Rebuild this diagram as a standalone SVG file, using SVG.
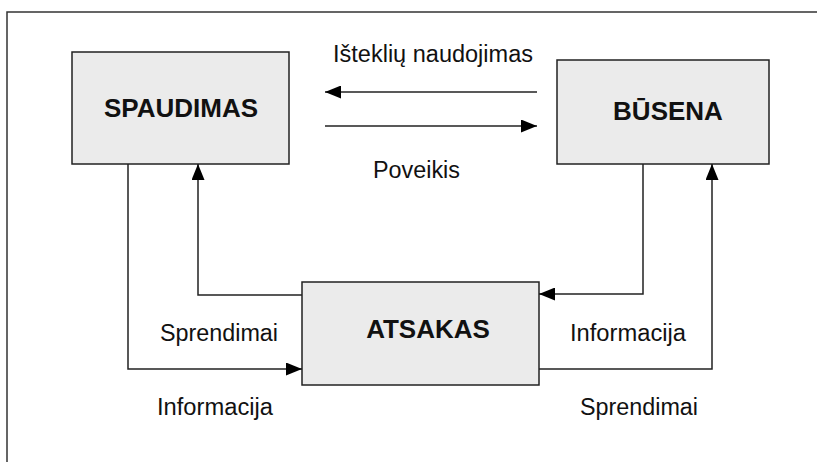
<svg xmlns="http://www.w3.org/2000/svg" width="817" height="462" viewBox="0 0 817 462">
<defs>
<marker id="ah" markerWidth="16" markerHeight="13" refX="16" refY="6.5" orient="auto" markerUnits="userSpaceOnUse">
<path d="M0,0 L16,6.5 L0,13 Z" fill="#000"/>
</marker>
<style>
.box{fill:#ebebeb;stroke:#222;stroke-width:1.5}
.t{font-family:"Liberation Sans",Arial,sans-serif;font-size:23px;fill:#111}
.b{font-family:"Liberation Sans",Arial,sans-serif;font-size:26px;font-weight:bold;fill:#111;text-anchor:middle}
.c{fill:none;stroke:#222;stroke-width:1.5}
</style>
</defs>
<rect width="817" height="462" fill="#fff"/>
<path d="M7,462 V12 H817" fill="none" stroke="#333" stroke-width="1.5"/>
<g id="spaudimas"><rect class="box" x="72" y="52" width="217" height="112"/><text class="b" x="181" y="117">SPAUDIMAS</text></g>
<g id="busena"><rect class="box" x="557" y="60" width="212" height="104"/><text class="b" x="668" y="120">BŪSENA</text></g>
<g id="atsakas"><rect class="box" x="302" y="282" width="237" height="103"/><text class="b" x="428" y="338">ATSAKAS</text></g>
<g id="connectors">
<path class="c" d="M537,92 H325" marker-end="url(#ah)"/>
<path class="c" d="M325,126 H537" marker-end="url(#ah)"/>
<path class="c" d="M128,164 V369 H302" marker-end="url(#ah)"/>
<path class="c" d="M302,295 H198 V164" marker-end="url(#ah)"/>
<path class="c" d="M643,164 V294 H539" marker-end="url(#ah)"/>
<path class="c" d="M539,369 H712 V164" marker-end="url(#ah)"/>
</g>
<g id="labels">
<text class="t" x="333" y="62" textLength="200" lengthAdjust="spacingAndGlyphs">Išteklių naudojimas</text>
<text class="t" x="373" y="178" textLength="87" lengthAdjust="spacingAndGlyphs">Poveikis</text>
<text class="t" x="160" y="341" textLength="118" lengthAdjust="spacingAndGlyphs">Sprendimai</text>
<text class="t" x="157" y="415" textLength="116" lengthAdjust="spacingAndGlyphs">Informacija</text>
<text class="t" x="570" y="341" textLength="116" lengthAdjust="spacingAndGlyphs">Informacija</text>
<text class="t" x="580" y="415" textLength="118" lengthAdjust="spacingAndGlyphs">Sprendimai</text>
</g>
</svg>
